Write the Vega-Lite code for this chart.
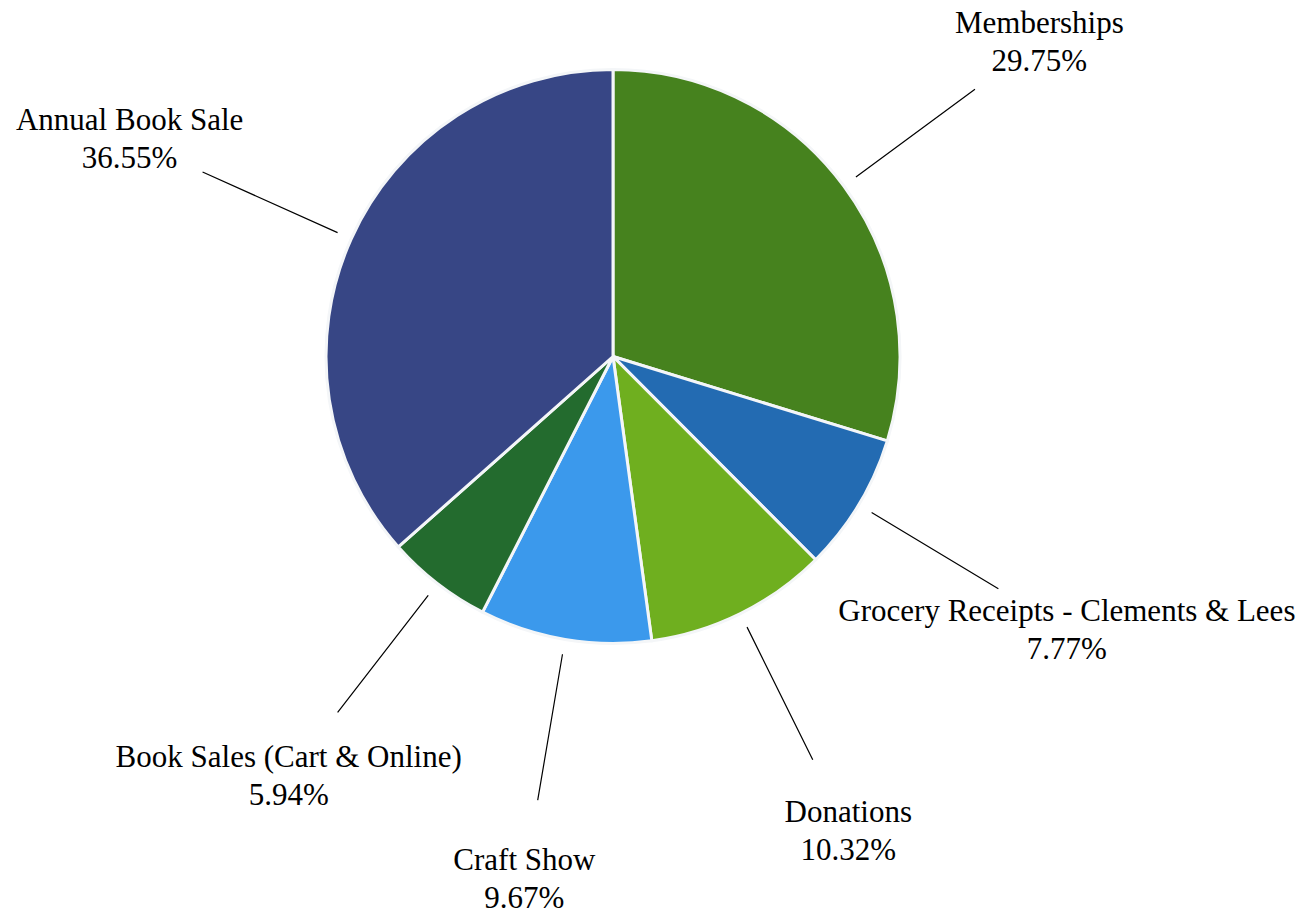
{
  "$schema": "https://vega.github.io/schema/vega-lite/v6.json",
  "width": 1226,
  "height": 713,
  "autosize": {"type": "none"},
  "padding": {"left": 0, "top": 0, "right": 85, "bottom": 205},
  "background": "white",
  "config": {"view": {"stroke": null}},
  "data": {
    "values": [
      {"category": "Memberships", "share": 0.2975},
      {"category": "Grocery Receipts - Clements & Lees", "share": 0.0777},
      {"category": "Donations", "share": 0.1032},
      {"category": "Craft Show", "share": 0.0967},
      {"category": "Book Sales (Cart & Online)", "share": 0.0594},
      {"category": "Annual Book Sale", "share": 0.3655}
    ]
  },
  "encoding": {
    "theta": {"field": "share", "type": "quantitative", "stack": true},
    "order": {"field": "category", "sort": "descending"}
  },
  "layer": [
    {
      "mark": {"type": "arc", "outerRadius": 287, "stroke": "#f4f6f8", "strokeWidth": 3},
      "encoding": {
        "color": {
          "field": "category",
          "type": "nominal",
          "scale": {
            "domain": ["Memberships", "Grocery Receipts - Clements & Lees", "Donations", "Craft Show", "Book Sales (Cart & Online)", "Annual Book Sale"],
            "range": ["#46821E", "#236BB2", "#6FAF1F", "#3B99EC", "#236B2E", "#374685"]
          },
          "legend": null
        }
      }
    },
    {
      "mark": {"type": "arc", "innerRadius": 302, "outerRadius": 450, "padAngle": 3, "filled": false, "stroke": "#000000", "strokeWidth": 1.2},
      "encoding": {}
    },
    {
      "mark": {"type": "text", "radius": 530, "font": "Times New Roman", "fontSize": 31, "dy": -9, "baseline": "alphabetic", "align": "center", "color": "#000000"},
      "encoding": {"text": {"field": "category", "type": "nominal"}}
    },
    {
      "mark": {"type": "text", "radius": 530, "font": "serif", "fontSize": 31, "dy": 29, "baseline": "alphabetic", "align": "center", "color": "#000000"},
      "encoding": {"text": {"field": "share", "type": "quantitative", "format": ".2%"}}
    }
  ]
}
